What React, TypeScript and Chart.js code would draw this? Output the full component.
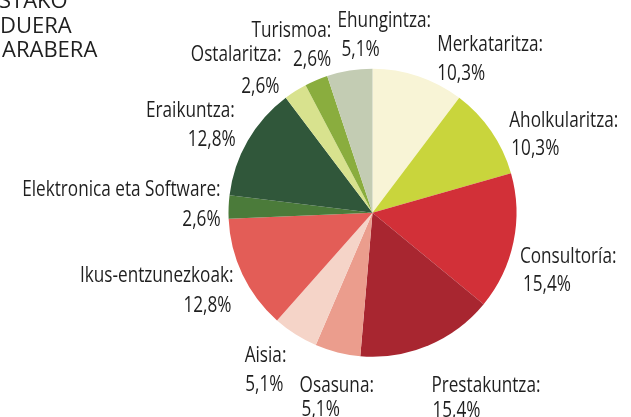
import React, { useEffect, useRef } from "react";
import { Chart, registerables } from "chart.js";

Chart.register(...registerables);

// ---- data ----
const categories = [
  "Merkataritza",
  "Aholkularitza",
  "Consultoría",
  "Prestakuntza",
  "Osasuna",
  "Aisia",
  "Ikus-entzunezkoak",
  "Elektronica eta Software",
  "Eraikuntza",
  "Ostalaritza",
  "Turismoa",
  "Ehungintza",
];
const shares = [10.3, 10.3, 15.4, 15.4, 5.1, 5.1, 12.8, 2.6, 12.8, 2.6, 2.6, 5.1];
const titleLines = ["STAKO", "DUERA", "ARABERA"];

// ---- styles / layout ----
const sliceColors = [
  "#f8f4d6",
  "#c9d53c",
  "#d23038",
  "#a82630",
  "#eb9d8d",
  "#f5d4c8",
  "#e35d57",
  "#4b7b3a",
  "#30573a",
  "#d8e28e",
  "#8aad3e",
  "#c3ccb3",
];
// offsets of each label block from the midpoint of its slice's outer edge
const labelLayout = [
  { align: "left", dx: 19, dy: -25, dx2: 0, gap: 29 },
  { align: "left", dx: 18, dy: -4, dx2: 2, gap: 28 },
  { align: "left", dx: 6.5, dy: 21, dx2: 3, gap: 28 },
  { align: "left", dx: 3, dy: 47, dx2: 1, gap: 25 },
  { align: "left", dx: -38, dy: 39.5, dx2: 2, gap: 24 },
  { align: "right", dx: -9, dy: 28, dx2: -3, gap: 29 },
  { align: "right", dx: -9, dy: 7, dx2: -2, gap: 30 },
  { align: "right", dx: -8, dy: -11, dx2: 0, gap: 30 },
  { align: "right", dx: -13, dy: -24, dx2: 1, gap: 29 },
  { align: "right", dx: -14, dy: -30, dx2: -2, gap: 32 },
  { align: "right", dx: 15, dy: -43, dx2: 0, gap: 29 },
  { align: "left", dx: -12, dy: -44, dx2: 4, gap: 29 },
];
const LABEL_FONT = '22px "Open Sans", "Noto Sans", sans-serif';
const LABEL_SQUEEZE = 0.78; // condensed look
const TITLE_FONT = '22px "Open Sans", "Liberation Sans", sans-serif';
const TEXT_COLOR = "#1f1f1f";

const fmt = (v: number) => v.toFixed(1).replace(".", ",") + "%";

function squeezedText(ctx: CanvasRenderingContext2D, text: string, x: number, y: number, align: CanvasTextAlign) {
  ctx.save();
  ctx.translate(x, y);
  ctx.scale(LABEL_SQUEEZE, 1);
  ctx.textAlign = align;
  ctx.fillText(text, 0, 0);
  ctx.restore();
}

const labelPlugin = {
  id: "sliceLabels",
  afterDatasetsDraw(chart: any) {
    const ctx = chart.ctx as CanvasRenderingContext2D;
    const meta = chart.getDatasetMeta(0);
    ctx.save();
    ctx.fillStyle = TEXT_COLOR;
    ctx.font = LABEL_FONT;
    ctx.textBaseline = "alphabetic";
    meta.data.forEach((arc: any, i: number) => {
      const p = arc.getProps(["x", "y", "startAngle", "endAngle", "outerRadius"], true);
      const mid = (p.startAngle + p.endAngle) / 2;
      const bx = p.x + Math.cos(mid) * p.outerRadius;
      const by = p.y + Math.sin(mid) * p.outerRadius;
      const L = labelLayout[i];
      const al = L.align as CanvasTextAlign;
      squeezedText(ctx, categories[i] + ":", bx + L.dx, by + L.dy, al);
      squeezedText(ctx, fmt(shares[i]), bx + L.dx + L.dx2, by + L.dy + L.gap, al);
    });
    // title (cut off at the page edge)
    ctx.font = TITLE_FONT;
    ctx.textAlign = "left";
    const titleX = [-1, 0, 2];
    const titleY = [8, 33, 57];
    titleLines.forEach((t, i) => ctx.fillText(t, titleX[i], titleY[i]));
    ctx.restore();
  },
};

export default function App() {
  const ref = useRef<HTMLCanvasElement | null>(null);
  useEffect(() => {
    document.body.style.margin = "0";
    document.body.style.overflow = "hidden";
    const canvas = ref.current!;
    const chart = new Chart(canvas, {
      type: "pie",
      data: {
        labels: categories,
        datasets: [
          {
            data: shares,
            backgroundColor: sliceColors,
            borderWidth: 0,
          },
        ],
      },
      options: {
        responsive: false,
        animation: false,
        devicePixelRatio: 1,
        layout: { padding: { left: 228.5, right: 114.5, top: 68.7, bottom: 60.3 } },
        plugins: {
          legend: { display: false },
          tooltip: { enabled: false },
          title: { display: false },
        },
      },
      plugins: [labelPlugin],
    });
    return () => chart.destroy();
  }, []);
  return (
    <div style={{ width: 631, height: 417, background: "#fff" }}>
      <canvas ref={ref} width={631} height={417} style={{ display: "block" }} />
    </div>
  );
}
